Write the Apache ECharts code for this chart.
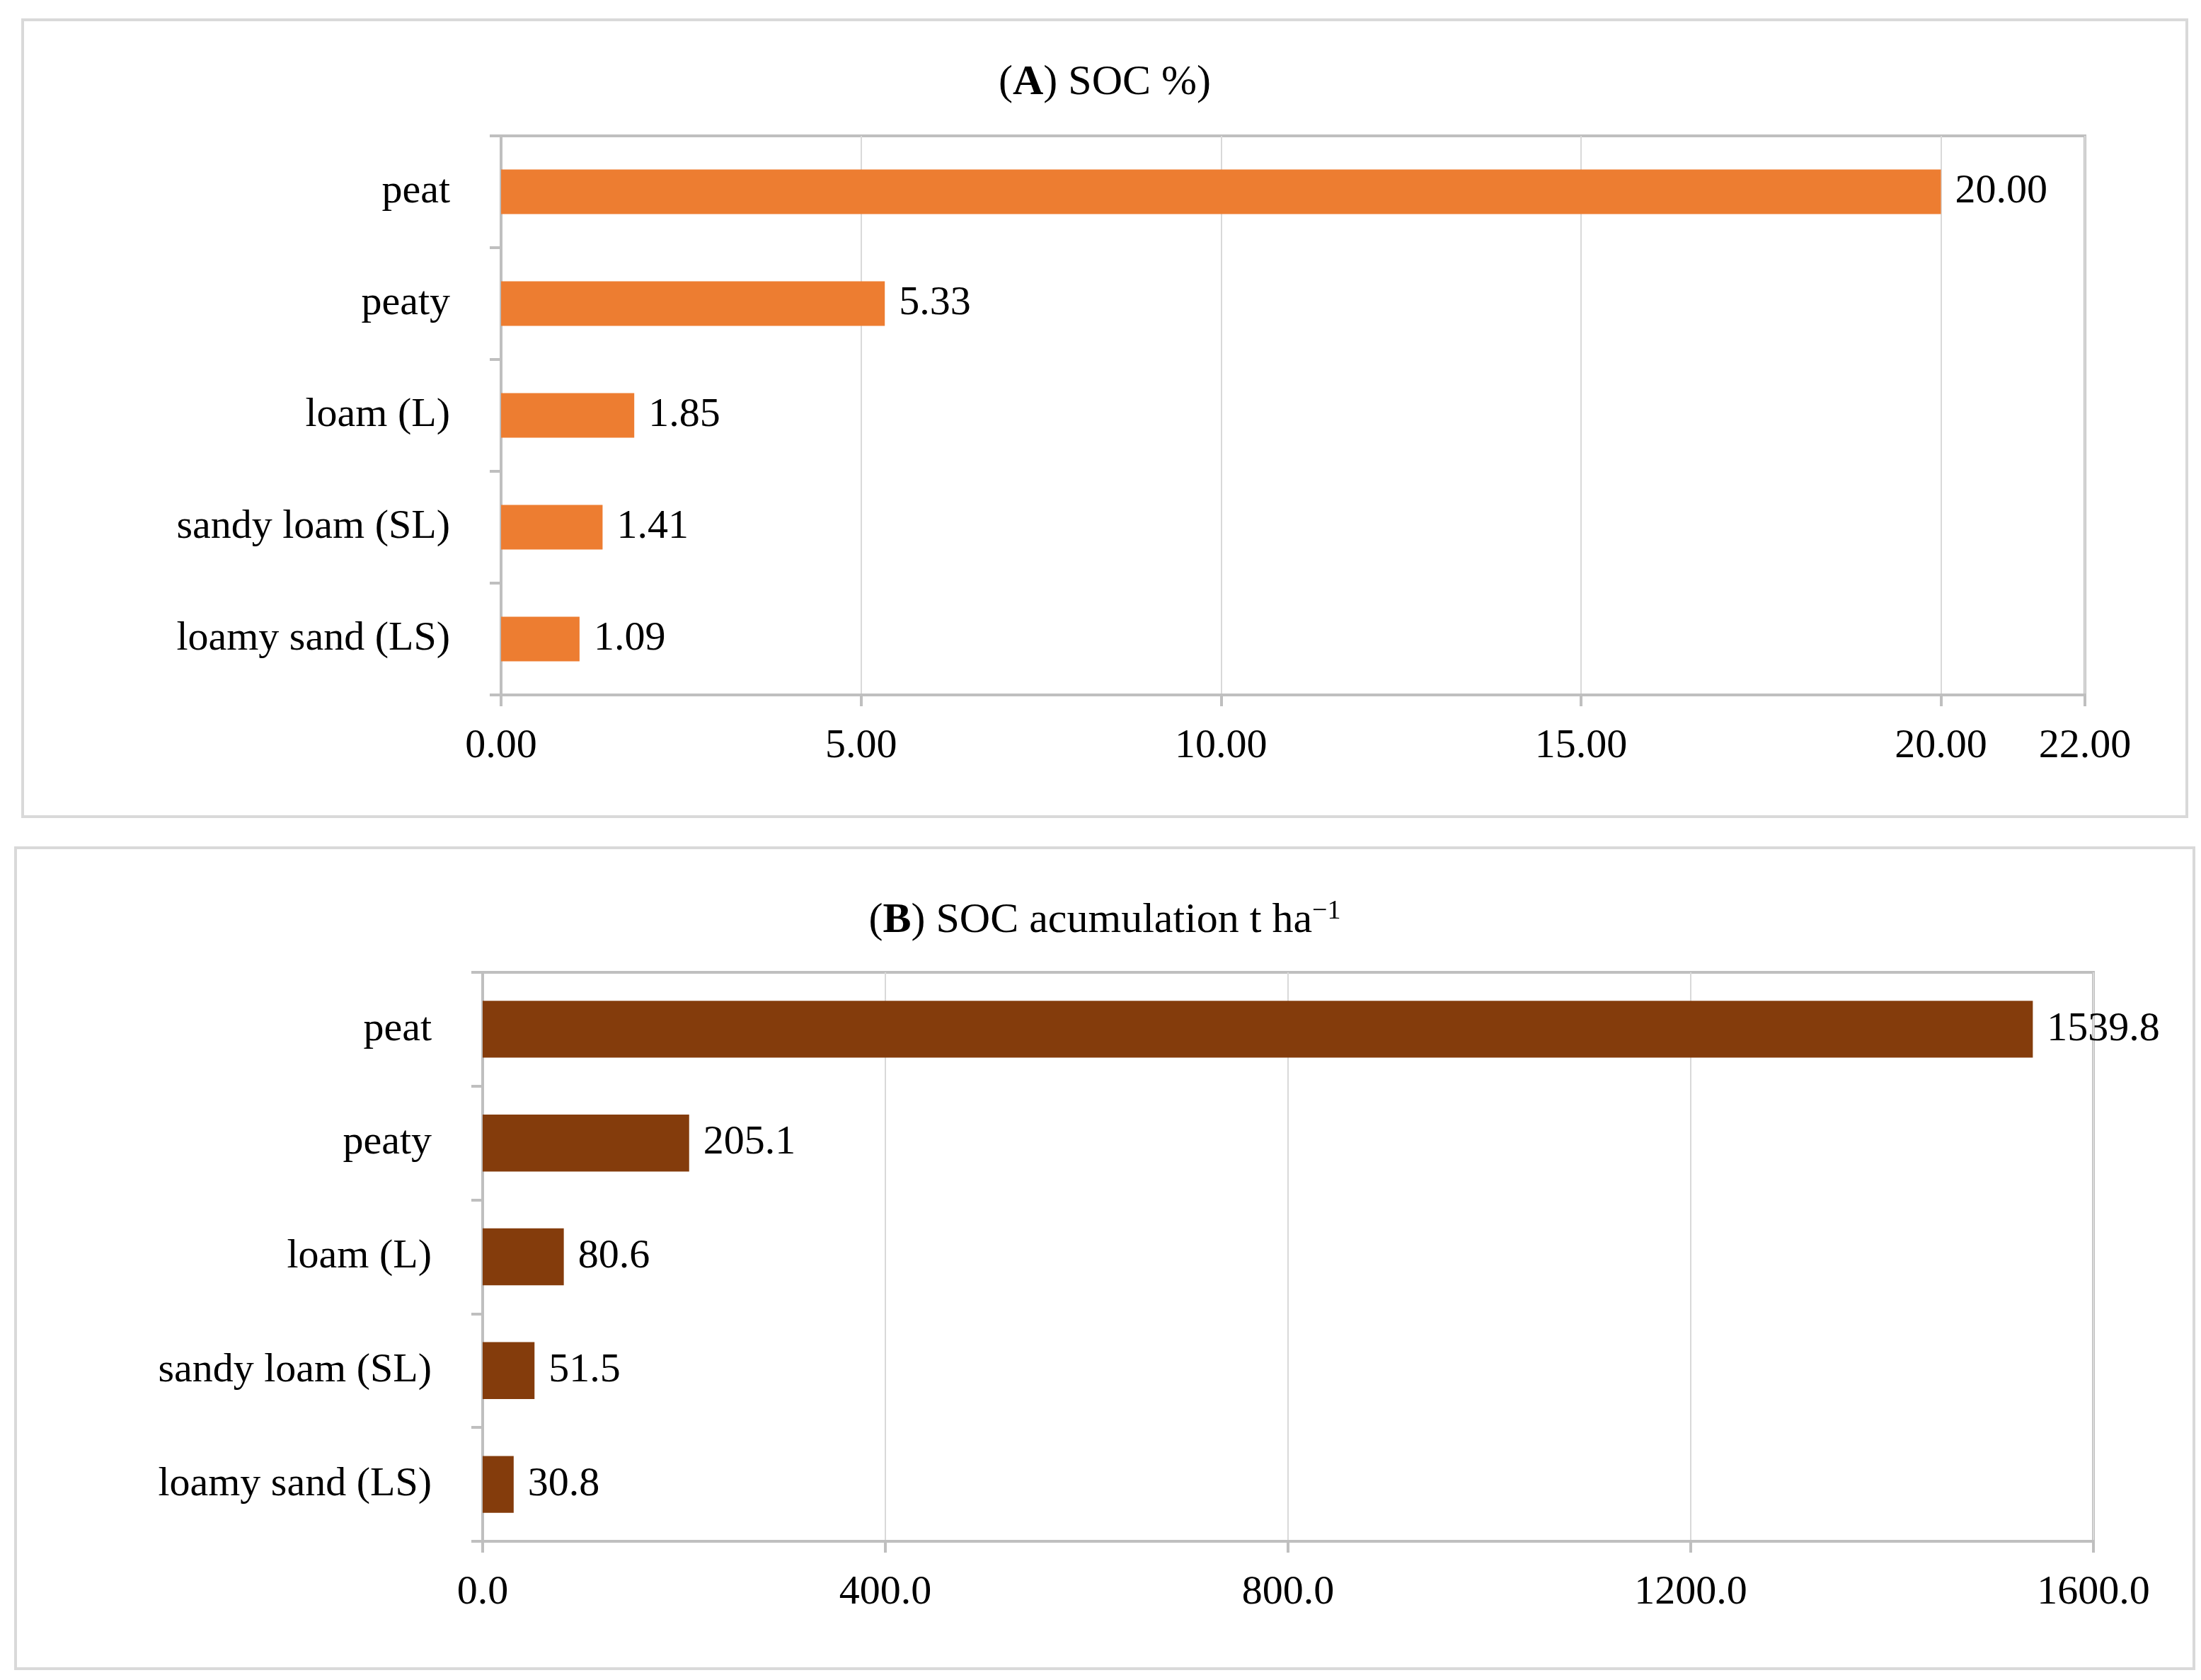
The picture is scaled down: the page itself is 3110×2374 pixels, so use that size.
<!DOCTYPE html>
<html lang="en">
<head>
    <meta charset="UTF-8">
    <script src="https://cdn.jsdelivr.net/npm/echarts@6/dist/echarts.min.js"></script>
    <title>SOC</title>
    <style>
        body { margin: 0; background: #fff; width: 3110px; height: 2374px; position: relative; }
        .box { position: absolute; border: 4px solid #d9d9d9; box-sizing: border-box; }
    </style>
</head>
<body>
    <div id="chartA" class="box" style="left:30px; top:26px; width:3062px; height:1130px;"></div>
    <div id="chartB" class="box" style="left:20px; top:1196px; width:3082px; height:1164px;"></div>

    <script type="text/javascript">
        let categories = ['loamy sand (LS)', 'sandy loam (SL)', 'loam (L)', 'peaty', 'peat'];
        let socPercent = [1.09, 1.41, 1.85, 5.33, 20.00];
        let socAccum = [30.8, 51.5, 80.6, 205.1, 1539.8];
        let font = 'Liberation Serif';

        function makeOption(titleRich, data, color, max, interval, digits, grid, barWidth) {
            return {
                animation: false,
                textStyle: { fontFamily: font },
                title: {
                    text: titleRich,
                    left: 'center',
                    top: grid.top - 110,
                    textStyle: {
                        fontFamily: font, fontSize: 60, fontWeight: 'normal', color: '#000',
                        rich: {
                            b: { fontFamily: font, fontSize: 60, fontWeight: 'bold', color: '#000' },
                            n: { fontFamily: font, fontSize: 60, color: '#000' },
                            sup: { fontFamily: font, fontSize: 38, color: '#000', verticalAlign: 'top', padding: [0, 0, 26, 0] }
                        }
                    }
                },
                grid: Object.assign({ show: true, borderColor: '#bfbfbf', borderWidth: 4 }, grid),
                xAxis: {
                    type: 'value', min: 0, max: max, interval: interval,
                    axisLine: { show: true, lineStyle: { color: '#bfbfbf', width: 4 } },
                    axisTick: { show: true, length: 16, lineStyle: { color: '#bfbfbf', width: 4 } },
                    splitLine: { lineStyle: { color: '#d9d9d9', width: 2 } },
                    axisLabel: { fontFamily: font, fontSize: 58, color: '#000', margin: 44,
                        formatter: v => v.toFixed(digits) }
                },
                yAxis: {
                    type: 'category', data: categories,
                    axisLine: { show: true, lineStyle: { color: '#bfbfbf', width: 4 } },
                    axisTick: { show: true, length: 16, lineStyle: { color: '#bfbfbf', width: 4 } },
                    axisLabel: { fontFamily: font, fontSize: 58, color: '#000', margin: 72 }
                },
                series: [{
                    type: 'bar', data: data, barWidth: barWidth,
                    itemStyle: { color: color },
                    label: { show: true, position: 'right', distance: 20, fontFamily: font, fontSize: 58, color: '#000',
                        formatter: p => p.value.toFixed(digits) }
                }]
            };
        }

        let chartA = echarts.init(document.getElementById('chartA'));
        chartA.setOption(makeOption('({b|A}{n|) SOC %})', socPercent, '#ed7d31', 22, 5, 2,
            { left: 674, top: 162, width: 2238, height: 790 }, '40%'));

        let chartB = echarts.init(document.getElementById('chartB'));
        chartB.setOption(makeOption('({b|B}{n|) SOC acumulation t ha}{sup|−1}', socAccum, '#843c0c', 1600, 400, 1,
            { left: 658, top: 174, width: 2276, height: 804 }, '50%'));
    </script>
</body>
</html>
